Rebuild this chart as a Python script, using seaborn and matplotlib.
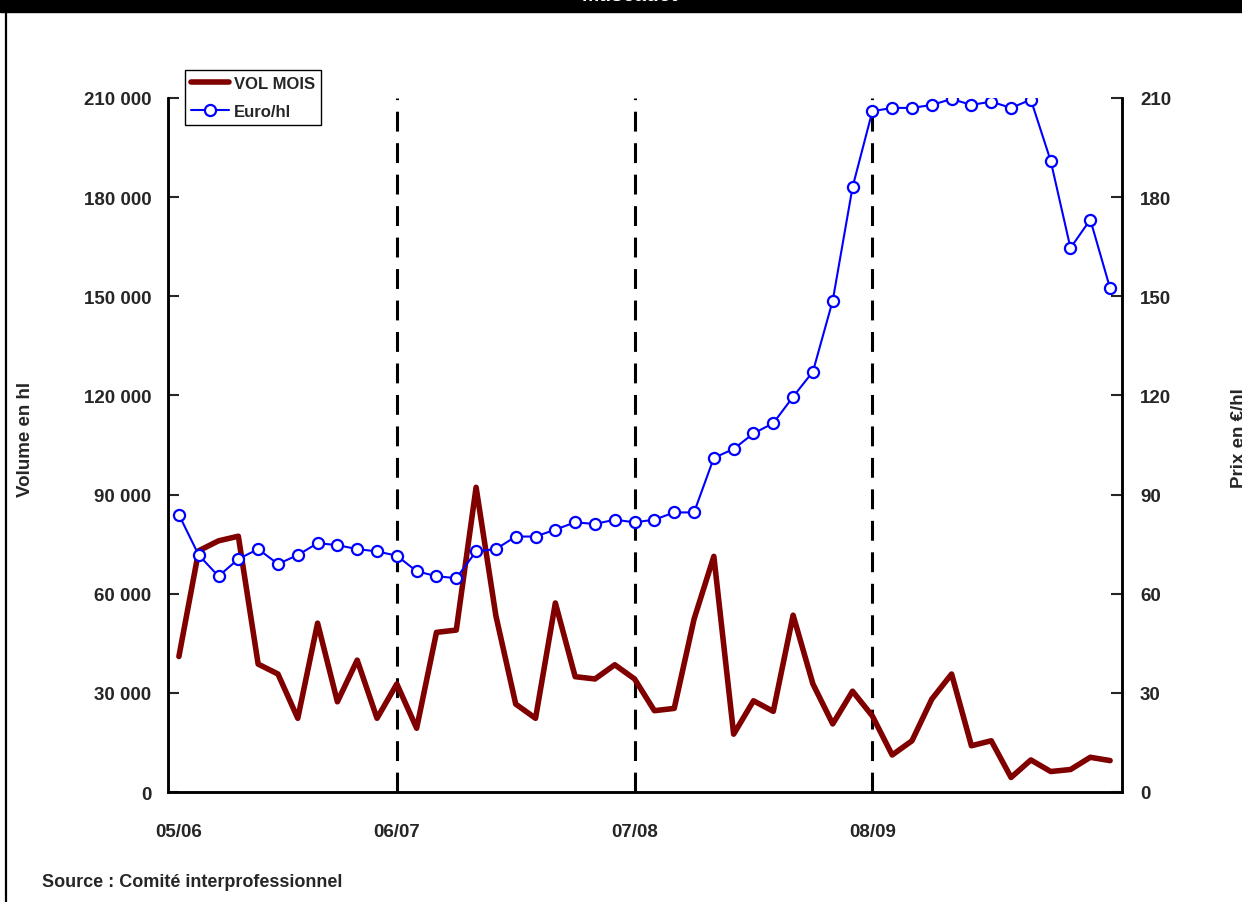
import numpy as np
import pandas as pd
import seaborn as sns
import matplotlib.pyplot as plt
from matplotlib.lines import Line2D
from matplotlib.patches import Rectangle

# monthly series, campaign 05/06 -> 08/09
vol_mois = [41000, 73000, 76000, 77400, 38700, 35700, 22300, 51100, 27300, 39900,
            22300, 32700, 19300, 48300, 49000, 92200, 53300, 26600, 22300, 57200,
            34900, 34200, 38500, 34200, 24600, 25300, 52300, 71300, 17500, 27600,
            24400, 53500, 32700, 20600, 30500, 23000, 11200, 15500, 28100, 35700,
            14000, 15500, 4400, 9700, 6200, 6800, 10500, 9500]
euro_hl = [83.9, 71.7, 65.3, 70.5, 73.5, 69.0, 71.7, 75.3, 74.7, 73.5,
           72.8, 71.5, 66.8, 65.3, 64.7, 72.8, 73.5, 77.3, 77.3, 79.4,
           81.6, 81.1, 82.4, 81.6, 82.4, 84.6, 84.6, 101.1, 103.8, 108.5,
           111.6, 119.6, 127.2, 148.7, 183.0, 206.0, 207.0, 207.0, 207.9, 209.7,
           207.9, 208.9, 207.0, 209.5, 191.0, 164.6, 173.2, 152.4]
campagnes = ["05/06", "06/07", "07/08", "08/09"]
debut_campagne = [0, 11, 23, 35]
separateurs = [11, 23, 35]
vol_ticks = [0, 30000, 60000, 90000, 120000, 150000, 180000, 210000]
prix_ticks = [0, 30, 60, 90, 120, 150, 180, 210]

df = pd.DataFrame({"mois": np.arange(len(vol_mois)), "vol": vol_mois, "prix": euro_hl})

sns.set_style("white")
plt.rcParams['font.family'] = ['Liberation Sans', 'DejaVu Sans']
plt.rcParams['font.weight'] = 'bold'

fig = plt.figure(figsize=(12.42, 9.03), dpi=100)
ax = fig.add_axes([168/1242, 1-793/903, (1122-168)/1242, (793-99)/903])
ax2 = ax.twinx()

red = "#800000"
blue = "#0000ff"

# separation des campagnes
for s in separateurs:
    ax.axvline(s, color="black", lw=2.2, dashes=(6.5, 3.8), zorder=1)

sns.lineplot(data=df, x="mois", y="vol", ax=ax, color=red, linewidth=4, zorder=2)
sns.lineplot(data=df, x="mois", y="prix", ax=ax2, color=blue, linewidth=1.5,
             marker="o", markersize=8, markerfacecolor="white",
             markeredgecolor=blue, markeredgewidth=1.6)

ax.set_xlim(-0.55, 47.6)
ax.set_ylim(0, 210000)
ax2.set_ylim(0, 210)
ax.set_xticks(debut_campagne)
ax.set_xticklabels(campagnes, fontsize=13.5, fontweight="bold")
ax.tick_params(axis="x", length=0, pad=22)
ax.set_yticks(vol_ticks)
ax.set_yticklabels([f"{v:,}".replace(",", " ") for v in vol_ticks], fontsize=13.5, fontweight="bold")
ax.tick_params(axis="y", direction="in", length=8, width=1.5, pad=12)
ax2.set_yticks(prix_ticks)
ax2.set_yticklabels([str(v) for v in prix_ticks], fontsize=13.5, fontweight="bold")
ax2.tick_params(axis="y", direction="in", length=8, width=1.5, pad=13)
ax.set_xlabel("")
ax.set_ylabel("")
ax2.set_ylabel("")

for a in (ax, ax2):
    a.spines["top"].set_visible(False)
    for sp in ("left", "right", "bottom"):
        a.spines[sp].set_linewidth(1.8)
        a.spines[sp].set_color("black")

fig.text(26/1242, 1-439/903, "Volume en hl", rotation=90, ha="center", va="center",
         fontsize=13.5, fontweight="bold")
fig.text(1240/1242, 1-438/903, "Prix en €/hl", rotation=90, ha="center", va="center",
         fontsize=13.5, fontweight="bold")
fig.text(42/1242, 1-883/903, "Source : Comité interprofessionnel", ha="left", va="center",
         fontsize=13, fontweight="bold")

handles = [Line2D([], [], color=red, lw=4),
           Line2D([], [], color=blue, lw=1.5, marker="o", markersize=8,
                  markerfacecolor="white", markeredgecolor=blue, markeredgewidth=1.6)]
leg = fig.legend(handles, ["VOL MOIS", "Euro/hl"], loc="upper left",
                 bbox_to_anchor=(185/1242, 1-71/903), fancybox=False, framealpha=1,
                 edgecolor="black", prop={"size": 12, "weight": "bold"},
                 handlelength=2.3, handletextpad=0.3, borderpad=0.35, labelspacing=0.8,
                 borderaxespad=0)
leg.get_frame().set_linewidth(1.0)

# bandeau noir du titre (coupe en haut) et bord gauche
fig.patches.append(Rectangle((0, 1-13/903), 1, 13/903, transform=fig.transFigure,
                             color="black", zorder=0))
fig.text(630/1242, 1-5/903, "Muscadet", ha="center", va="bottom", color="white",
         fontsize=15, fontweight="bold")
fig.add_artist(Line2D([6/1242, 6/1242], [0, 1], transform=fig.transFigure,
                      color="black", lw=1.6))

fig.savefig("out.png", dpi=100, facecolor="white")
